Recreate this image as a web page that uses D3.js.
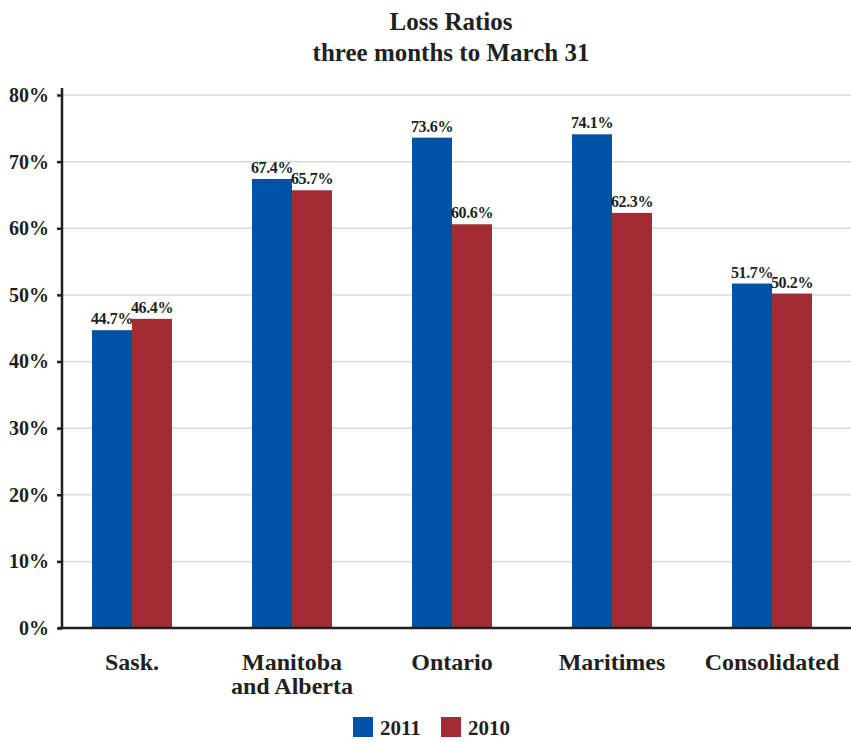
<!DOCTYPE html>
<html>
<head>
<meta charset="utf-8">
<script src="https://cdn.jsdelivr.net/npm/d3@7"></script>
<style>
  body { margin: 0; background: #fff; }
  svg text { font-family: "Liberation Serif", "Times New Roman", serif; fill: #231f20; }
</style>
</head>
<body>
<svg class="chart" width="851" height="742"></svg>
<script>
// data
var categories = [["Sask."], ["Manitoba", "and Alberta"], ["Ontario"], ["Maritimes"], ["Consolidated"]];
var series = ["2011", "2010"];
var values2011 = [44.7, 67.4, 73.6, 74.1, 51.7];
var values2010 = [46.4, 65.7, 60.6, 62.3, 50.2];
var yTicks = [0, 10, 20, 30, 40, 50, 60, 70, 80];
var colors = ["#0052a5", "#a12c33"];

var svg = d3.select(".chart");

var x = d3.scaleBand()
    .domain(d3.range(categories.length))
    .range([52, 852])
    .paddingInner(0.5)
    .paddingOuter(0.25);

var xs = d3.scaleBand()
    .domain(series)
    .range([0, x.bandwidth()]);

var y = d3.scaleLinear()
    .domain([0, 80])
    .range([628, 95]);

// title
svg.append("text")
    .attr("x", 451).attr("y", 30)
    .attr("text-anchor", "middle")
    .style("font-size", "25px").style("font-weight", "bold")
    .text("Loss Ratios");
svg.append("text")
    .attr("x", 451).attr("y", 61)
    .attr("text-anchor", "middle")
    .style("font-size", "25px").style("font-weight", "bold")
    .text("three months to March 31");

// gridlines
svg.append("g")
    .selectAll("line")
    .data(yTicks.slice(1))
    .enter().append("line")
    .attr("x1", 62).attr("x2", 851)
    .attr("y1", function (d) { return y(d); })
    .attr("y2", function (d) { return y(d); })
    .attr("stroke", "#dadada")
    .attr("stroke-width", 1.5);

// bars
var groups = svg.append("g")
    .selectAll("g")
    .data(categories)
    .enter().append("g")
    .attr("transform", function (d, i) { return "translate(" + x(i) + ",0)"; });

groups.each(function (d, i) {
    var g = d3.select(this);
    var vals = [values2011[i], values2010[i]];
    vals.forEach(function (v, k) {
        g.append("rect")
            .attr("x", xs(series[k]))
            .attr("y", y(v))
            .attr("width", xs.bandwidth())
            .attr("height", y(0) - y(v))
            .attr("fill", colors[k]);
        g.append("text")
            .attr("x", xs(series[k]) + xs.bandwidth() / 2)
            .attr("y", y(v) - 6)
            .attr("text-anchor", "middle")
            .style("font-size", "16px")
            .style("font-weight", "bold")
            .style("letter-spacing", "-0.4px")
            .text(v.toFixed(1) + "%");
    });
});

// y axis
var yAxis = d3.axisLeft(y)
    .tickValues(yTicks)
    .tickSize(5)
    .tickPadding(8)
    .tickFormat(function (d) { return d + "%"; });

var gy = svg.append("g")
    .attr("transform", "translate(62,0)")
    .call(yAxis);
gy.select(".domain").remove();
gy.selectAll(".tick line").attr("stroke", "#231f20").attr("stroke-width", 2.5);
gy.selectAll(".tick text")
    .style("font-size", "20px")
    .style("font-weight", "bold")
    .attr("fill", "#231f20");
svg.append("line")
    .attr("x1", 62).attr("x2", 62)
    .attr("y1", 88).attr("y2", 629)
    .attr("stroke", "#231f20").attr("stroke-width", 2.5);

// x axis line
svg.append("line")
    .attr("x1", 58).attr("x2", 851)
    .attr("y1", y(0)).attr("y2", y(0))
    .attr("stroke", "#231f20").attr("stroke-width", 2.5);

// category labels
var labels = svg.append("g")
    .selectAll("text")
    .data(categories)
    .enter().append("text")
    .attr("x", function (d, i) { return x(i) + x.bandwidth() / 2; })
    .attr("y", 670)
    .attr("text-anchor", "middle")
    .style("font-size", "24px")
    .style("font-weight", "bold");
labels.selectAll("tspan")
    .data(function (d) { return d; })
    .enter().append("tspan")
    .attr("x", function () { return d3.select(this.parentNode).attr("x"); })
    .attr("dy", function (d, i) { return i === 0 ? 0 : 24; })
    .text(function (d) { return d; });

// legend
var legend = svg.append("g")
    .selectAll("g")
    .data(series)
    .enter().append("g")
    .attr("transform", function (d, i) { return "translate(" + (353 + i * 88) + ",717)"; });
legend.append("rect")
    .attr("width", 20).attr("height", 20)
    .attr("fill", function (d, i) { return colors[i]; });
legend.append("text")
    .attr("x", 27).attr("y", 18)
    .style("font-size", "21px")
    .style("font-weight", "bold")
    .text(function (d) { return d; });
</script>
</body>
</html>
